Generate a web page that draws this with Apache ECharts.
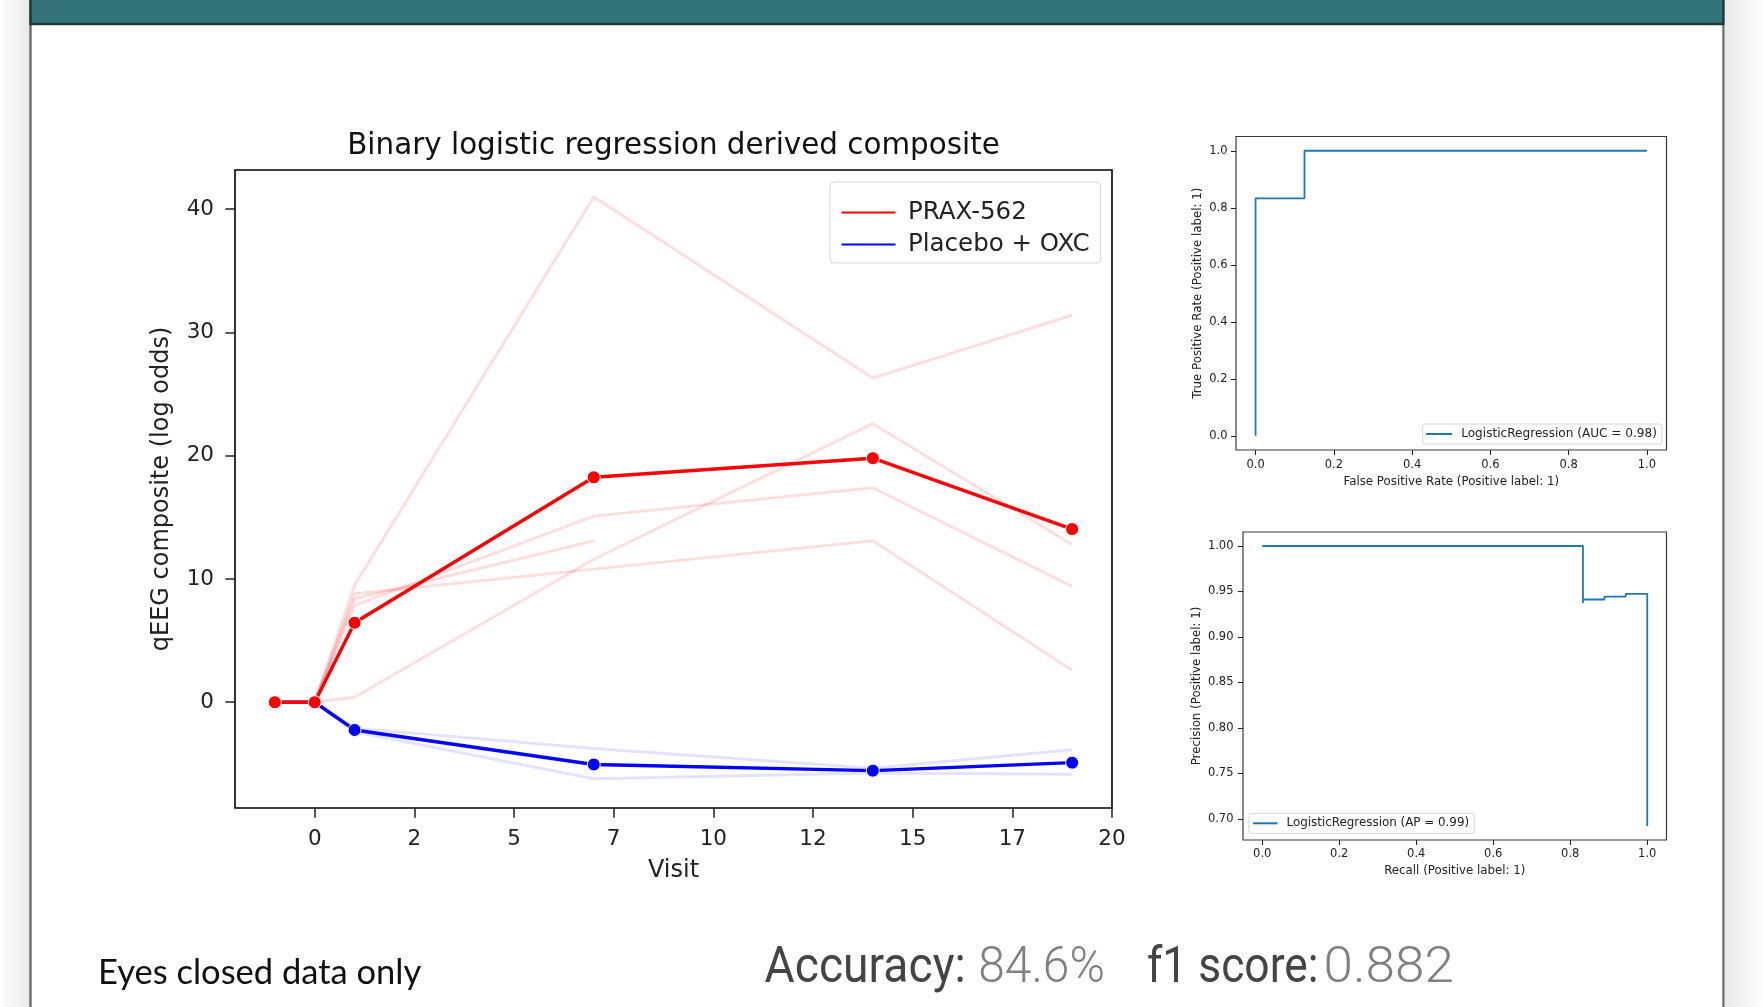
<!DOCTYPE html>
<html><head><meta charset="utf-8">
<script src="https://cdn.jsdelivr.net/npm/echarts@6/dist/echarts.min.js"></script>
<style>html,body{margin:0;padding:0;background:#fff}#c{width:1763px;height:1007px}</style>
</head><body><div id="c"></div>
<script>
// ---------- data ----------
const visits = [-1, 0, 1, 7, 14, 19];
const praxMean = [0, 0, 6.45, 18.25, 19.8, 14.05];
const placeboMean = [0, 0, -2.25, -5.05, -5.55, -4.9];

const subjVisits = [0, 1, 7, 14, 19];
const praxSubj1 = [0, 9.5, 41.0, 26.3, 31.4];
const praxSubj2 = [0, 8.8, 10.8, 13.1, 2.6];
const praxSubj3 = [0, 8.4, 13.1];
const praxSubj4 = [0, 7.85, 15.1, 17.4, 9.4];
const praxSubj5 = [0, 0.4, 11.6, 22.6, 12.8];
const placeboSubj1 = [0, -2.1, -3.75, -5.35, -3.85];
const placeboSubj2 = [0, -2.4, -6.2, -5.75, -5.85];

const xTickValues = [0, 2.5, 5, 7.5, 10, 12.5, 15, 17.5, 20];
const xTickLabels = ['0', '2', '5', '7', '10', '12', '15', '17', '20'];
const yTickValues = [0, 10, 20, 30, 40];
const yTickLabels = ['0', '10', '20', '30', '40'];

const rocFpr = [0, 0, 0.125, 0.125, 1.0];
const rocTpr = [0, 0.833, 0.833, 1.0, 1.0];
const prRecall = [1.0, 1.0, 0.944, 0.889, 0.833, 0.833, 0.0];
const prPrecision = [0.6923, 0.9474, 0.9444, 0.9412, 0.9375, 1.0, 1.0];

const unitTickValues = [0, 0.2, 0.4, 0.6, 0.8, 1.0];
const unitTickLabels = ['0.0', '0.2', '0.4', '0.6', '0.8', '1.0'];
const precTickValues = [0.70, 0.75, 0.80, 0.85, 0.90, 0.95, 1.00];
const precTickLabels = ['0.70', '0.75', '0.80', '0.85', '0.90', '0.95', '1.00'];

const mainTitle = 'Binary logistic regression derived composite';
const seriesNames = ['PRAX-562', 'Placebo + OXC'];
const rocName = 'LogisticRegression (AUC = 0.98)';
const prName = 'LogisticRegression (AP = 0.99)';
const noteText = 'Eyes closed data only';
const metricWords = ['Accuracy:', '84.6%', 'f1 score:', '0.882'];

// ---------- helpers ----------
const zip = (xs, ys) => ys.map((y, i) => [xs[i], y]);
const labeler = (vals, labels) => v => {
  for (let i = 0; i < vals.length; i++) if (Math.abs(vals[i] - v) < 1e-6) return labels[i];
  return '';
};
const FONT = 'DejaVu Sans';

function valAxis(gridIndex, min, max, ticks, labels, opts) {
  return Object.assign({
    type: 'value', gridIndex, min, max,
    splitLine: { show: false },
    axisLine: { show: false, onZero: false },
    axisTick: { show: true, customValues: ticks, length: opts.tickLen, lineStyle: { color: '#222', width: opts.tickW } },
    axisLabel: { customValues: ticks, formatter: labeler(ticks, labels), color: '#222',
      fontFamily: FONT, fontSize: opts.fs, margin: opts.margin },
    nameLocation: 'middle',
    nameTextStyle: { fontFamily: FONT, fontSize: opts.nfs, color: '#222' }
  }, opts.extra || {});
}

const faintRed = 'rgba(255,0,0,0.13)';
const faintBlue = 'rgba(0,0,255,0.11)';
function faint(data, color) {
  return { type: 'line', xAxisIndex: 0, yAxisIndex: 0, data, showSymbol: false, symbol: 'none',
    lineStyle: { color, width: 3 }, silent: true, z: 2 };
}

// bottom metric words: [left x, scaleX, colour, weight]
const metricLayout = [
  [764.6, 0.924, '#444444', 400],
  [978.2, 0.959, '#808080', 300],
  [1146.9, 0.887, '#444444', 400],
  [1323.5, 1.06, '#808080', 300]
];

const chart = echarts.init(document.getElementById('c'), null, { renderer: 'canvas' });

const option = {
  animation: false,
  backgroundColor: '#ffffff',
  grid: [
    { left: 235, top: 170, width: 877, height: 638, show: true, borderColor: '#000', borderWidth: 1.6, backgroundColor: 'transparent' },
    { left: 1236, top: 136.5, width: 430.5, height: 313.5, show: true, borderColor: '#3a3a3a', borderWidth: 1.2, backgroundColor: 'transparent' },
    { left: 1243, top: 532, width: 423.5, height: 308, show: true, borderColor: '#3a3a3a', borderWidth: 1.2, backgroundColor: 'transparent' }
  ],
  xAxis: [
    valAxis(0, -2, 20, xTickValues, xTickLabels, { tickLen: 9.7, tickW: 1.5, fs: 21.5, margin: 20.5, nfs: 24,
      extra: { name: 'Visit', nameGap: 51 } }),
    valAxis(1, -0.05, 1.05, unitTickValues, unitTickLabels, { tickLen: 5, tickW: 1, fs: 11.5, margin: 9, nfs: 11.8,
      extra: { name: 'False Positive Rate (Positive label: 1)', nameGap: 26 } }),
    valAxis(2, -0.05, 1.05, unitTickValues, unitTickLabels, { tickLen: 5, tickW: 1, fs: 11.5, margin: 8, nfs: 11.8,
      extra: { name: 'Recall (Positive label: 1)', nameGap: 25 } })
  ],
  yAxis: [
    valAxis(0, -8.58, 43.18, yTickValues, yTickLabels, { tickLen: 9.7, tickW: 1.5, fs: 21.5, margin: 21, nfs: 24,
      extra: { name: 'qEEG composite (log odds)', nameGap: 61 } }),
    valAxis(1, -0.05, 1.05, unitTickValues, unitTickLabels, { tickLen: 5, tickW: 1, fs: 11.5, margin: 8.5, nfs: 11.8,
      extra: { name: 'True Positive Rate (Positive label: 1)', nameGap: 32 } }),
    valAxis(2, 0.6769, 1.0154, precTickValues, precTickLabels, { tickLen: 5, tickW: 1, fs: 11.5, margin: 9.5, nfs: 11.8,
      extra: { name: 'Precision (Positive label: 1)', nameGap: 40 } })
  ],
  legend: [
    { data: seriesNames, orient: 'vertical', left: 830, top: 182, icon: 'rect', itemWidth: 56, itemHeight: 4,
      itemGap: 7, padding: [18, 11, 6, 9.5], borderColor: '#d6d6d6', borderWidth: 1, borderRadius: 4,
      backgroundColor: 'rgba(255,255,255,0.85)', selectedMode: false,
      textStyle: { fontFamily: FONT, fontSize: 24.5, color: '#222', padding: [0, 0, 0, 6.5] } },
    { data: [rocName], left: 1422.7, top: 424, icon: 'rect', itemWidth: 26, itemHeight: 2,
      padding: [4, 5, 4, 3.5], borderColor: '#d6d6d6', borderWidth: 1, borderRadius: 2, selectedMode: false,
      backgroundColor: 'rgba(255,255,255,0.85)',
      textStyle: { fontFamily: FONT, fontSize: 12.1, color: '#222', padding: [0, 0, 0, 4] } },
    { data: [prName], left: 1249, top: 813.3, icon: 'rect', itemWidth: 24.5, itemHeight: 2,
      padding: [4, 5, 4, 4], borderColor: '#d6d6d6', borderWidth: 1, borderRadius: 2, selectedMode: false,
      backgroundColor: 'rgba(255,255,255,0.85)',
      textStyle: { fontFamily: FONT, fontSize: 11.9, color: '#222', padding: [0, 0, 0, 4] } }
  ],
  series: [
    faint(zip(subjVisits, praxSubj1), faintRed),
    faint(zip(subjVisits, praxSubj2), faintRed),
    faint(zip(subjVisits, praxSubj3), faintRed),
    faint(zip(subjVisits, praxSubj4), faintRed),
    faint(zip(subjVisits, praxSubj5), faintRed),
    faint(zip(subjVisits, placeboSubj1), faintBlue),
    faint(zip(subjVisits, placeboSubj2), faintBlue),
    { name: seriesNames[1], type: 'line', xAxisIndex: 0, yAxisIndex: 0, data: zip(visits, placeboMean),
      symbol: 'circle', symbolSize: 13, showSymbol: true, color: '#0000ff',
      lineStyle: { color: '#0000ff', width: 3.4 }, itemStyle: { color: '#0000ff', borderColor: '#fff', borderWidth: 1 }, z: 3 },
    { name: seriesNames[0], type: 'line', xAxisIndex: 0, yAxisIndex: 0, data: zip(visits, praxMean),
      symbol: 'circle', symbolSize: 13, showSymbol: true, color: '#ff0000',
      lineStyle: { color: '#ff0000', width: 3.4 }, itemStyle: { color: '#ff0000', borderColor: '#fff', borderWidth: 1 }, z: 4 },
    { name: rocName, type: 'line', xAxisIndex: 1, yAxisIndex: 1, data: zip(rocFpr, rocTpr), symbol: 'none',
      color: '#1f77b4', lineStyle: { color: '#1f77b4', width: 1.8 } },
    { name: prName, type: 'line', xAxisIndex: 2, yAxisIndex: 2, data: zip(prRecall, prPrecision), symbol: 'none',
      step: 'end', color: '#1f77b4', lineStyle: { color: '#1f77b4', width: 1.8 } }
  ],
  graphic: [
    { type: 'rect', shape: { x: 0, y: 0, width: 29.5, height: 1007 }, silent: true,
      style: { fill: { type: 'linear', x: 0, y: 0, x2: 1, y2: 0, colorStops: [{ offset: 0, color: '#fdfdfd' }, { offset: 1, color: '#e9e9e9' }] } } },
    { type: 'rect', shape: { x: 1724.5, y: 0, width: 38.5, height: 1007 }, silent: true,
      style: { fill: { type: 'linear', x: 0, y: 0, x2: 1, y2: 0, colorStops: [{ offset: 0, color: '#e9e9e9' }, { offset: 1, color: '#fdfdfd' }] } } },
    { type: 'rect', shape: { x: 29.3, y: 0, width: 2.4, height: 1007 }, style: { fill: '#6a6a6a' }, silent: true },
    { type: 'rect', shape: { x: 1722.3, y: 0, width: 2.2, height: 1007 }, style: { fill: '#6a6a6a' }, silent: true },
    { type: 'rect', shape: { x: 29.3, y: 0, width: 1695.2, height: 25.3 }, style: { fill: '#1d3a2d' }, silent: true },
    { type: 'rect', shape: { x: 31.7, y: 0, width: 1690.6, height: 22.7 }, style: { fill: '#33737a' }, silent: true },
    { type: 'text', x: 673.5, y: 146, silent: true,
      style: { text: mainTitle, fontFamily: FONT, fontSize: 29.4, fill: '#111', align: 'center', verticalAlign: 'middle' } },
    { type: 'text', x: 98, y: 973, silent: true,
      style: { text: noteText, fontFamily: 'Lato', fontSize: 34.5, fill: '#111', align: 'left', verticalAlign: 'middle' } }
  ].concat(metricWords.map((w, i) => ({
    type: 'text', x: metricLayout[i][0], y: 969.5, scaleX: metricLayout[i][1], silent: true,
    style: { text: w, fontFamily: 'Roboto', fontSize: 50, fontWeight: metricLayout[i][3], fill: metricLayout[i][2],
      align: 'left', verticalAlign: 'middle' }
  })))
};
chart.setOption(option);
</script></body></html>
